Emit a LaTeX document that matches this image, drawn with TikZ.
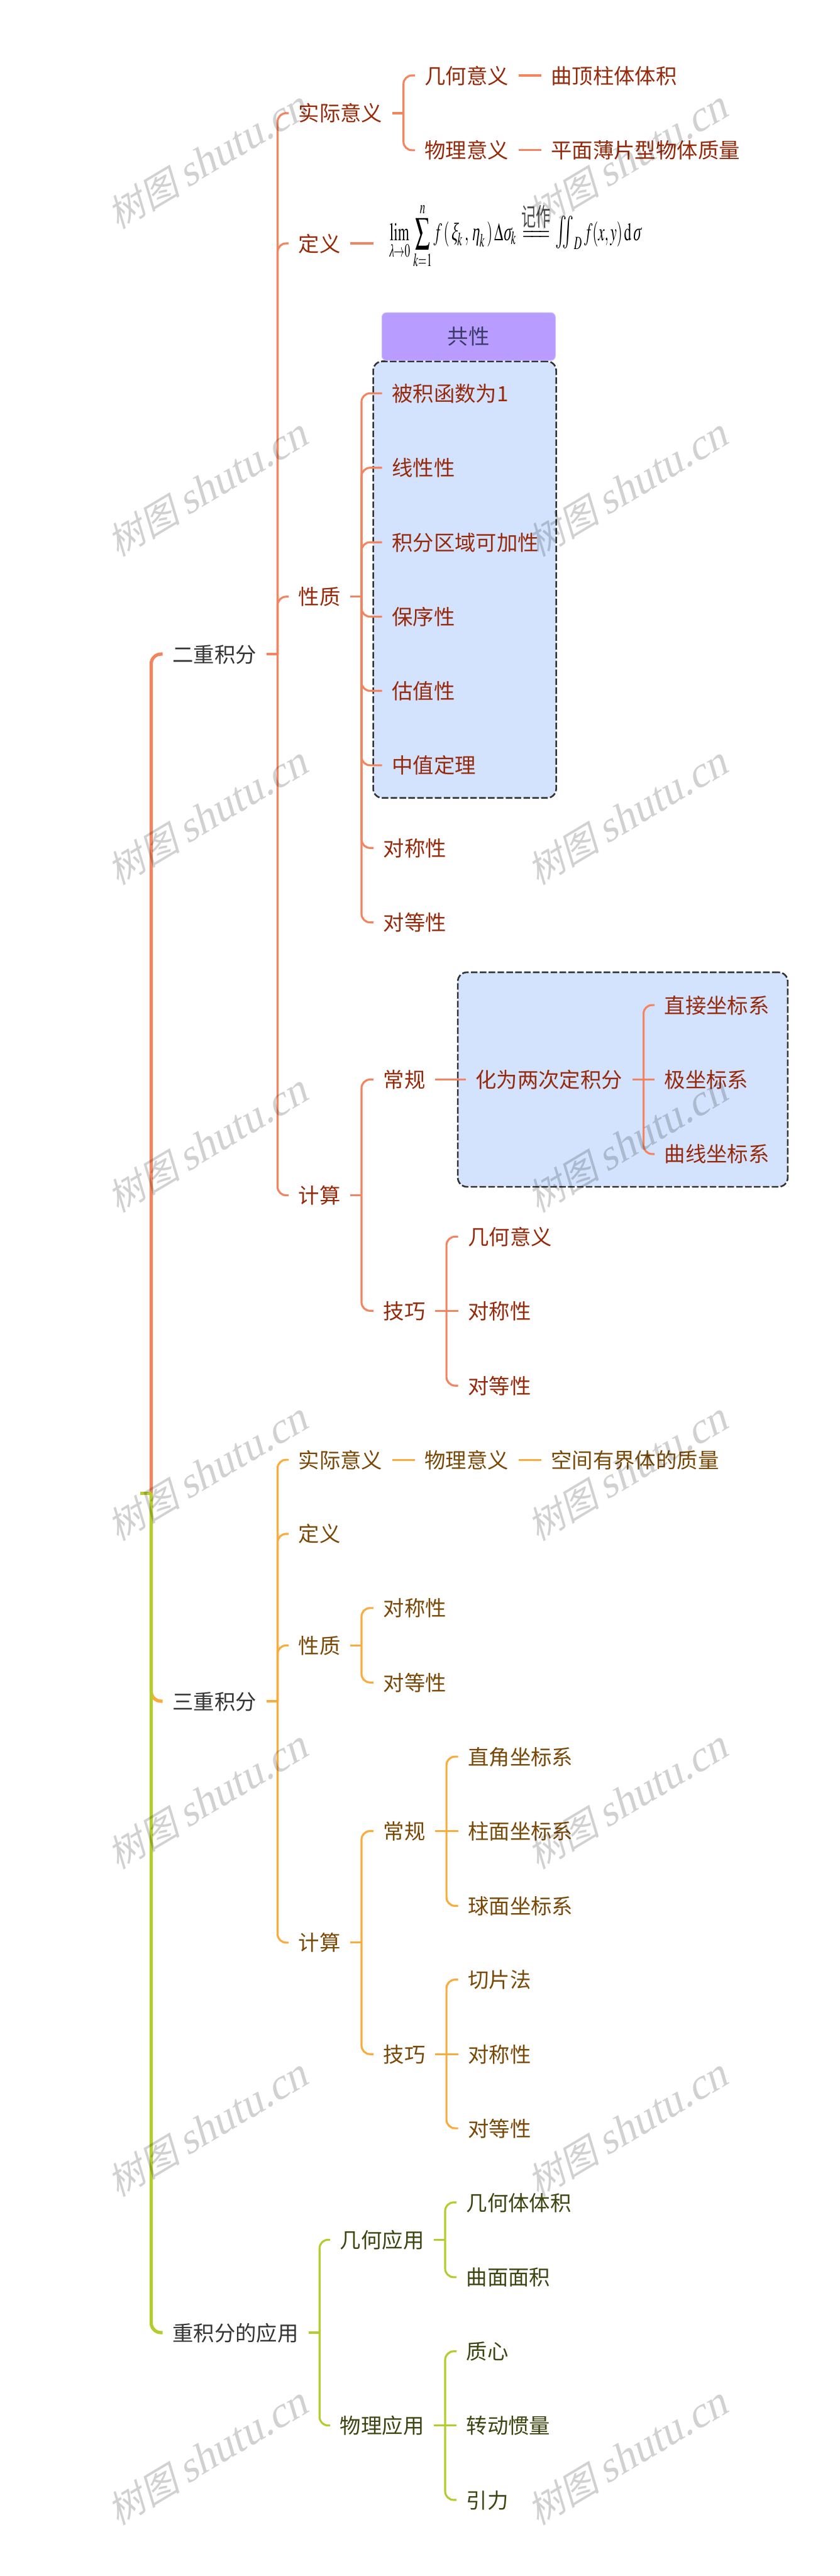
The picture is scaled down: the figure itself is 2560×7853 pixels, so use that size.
\documentclass[tikz,border=0pt]{standalone}
\usepackage{amsmath}
\usepackage{graphicx}
\usepackage{mathptmx}
\usepackage[no-math]{fontspec}
\setmainfont{Noto Sans CJK SC}
\newfontfamily\wmlatin[FakeSlant=0.25]{Liberation Serif}
\newfontfamily\wmcjk[FakeSlant=0.25]{Noto Sans CJK SC}
\definecolor{lineO}{HTML}{F4845F}
\definecolor{lineY}{HTML}{FAAB3C}
\definecolor{lineG}{HTML}{B4CC2E}
\definecolor{txtO}{HTML}{97290B}
\definecolor{txtY}{HTML}{7A4806}
\definecolor{txtG}{HTML}{3C4410}
\definecolor{txtK}{HTML}{333333}
\definecolor{boxB}{HTML}{D3E3FD}
\definecolor{boxP}{HTML}{B99CFF}
\definecolor{tagT}{HTML}{3B3A66}
\tikzset{
  lbl/.style={anchor=west,inner ysep=0pt,inner xsep=30pt,font=\fontsize{64}{70}\selectfont,text height=54pt,text depth=4pt},
  rootlbl/.style={lbl,text=txtK},
  lblO/.style={lbl,text=txtO},
  lblY/.style={lbl,text=txtY},
  lblG/.style={lbl,text=txtG},
  branchO/.style={draw=lineO,line width=6pt},
  branchY/.style={draw=lineY,line width=6pt},
  branchG/.style={draw=lineG,line width=6pt},
  trunkO/.style={draw=lineO,line width=10pt},
  trunkY/.style={draw=lineY,line width=10pt},
  trunkG/.style={draw=lineG,line width=10pt},
  groupbox/.style={draw=txtK,fill=boxB,line width=5pt,rounded corners=28pt,dash pattern=on 20pt off 7pt,inner sep=0pt},
  tagbox/.style={draw=boxP!70!white,fill=boxP,line width=2pt,rounded corners=14pt,inner sep=0pt,text=tagT,font=\fontsize{64}{70}\selectfont},
  wmark/.style={anchor=base west,rotate=30.8,inner sep=0pt,opacity=0.18,text=black}
}
\newcommand{\brk}[3]{%
  \draw[#1] (#2.east) -- ++(34,0);
  \draw[#1,rounded corners=26pt] (#2.east) ++(34,0) |- (#3.west);}
\newcommand{\straight}[3]{\draw[#1] (#2.east) -- (#3.west);}
\newcommand{\wmtext}{{\fontsize{112}{120}\selectfont\wmcjk 树图}\hspace{22pt}{\fontsize{130}{136}\selectfont\wmlatin shutu.cn}}
\newcommand{\gk}[1]{\mbox{\fontsize{10}{10}\selectfont\wmlatin #1}}
\newcommand{\gks}[1]{\mbox{\fontsize{7}{7}\selectfont\wmlatin #1}}
\begin{document}
\begin{tikzpicture}[x=1pt,y=-1pt]
\useasboundingbox[fill=white] (0,0) rectangle (2560,7853);
% group boxes
\node[groupbox,minimum width=558pt,minimum height=1331pt] (grpA) at (1417,1767) {};
\node[tagbox,minimum width=529pt,minimum height=146pt] (tagA) at (1429,1026) {共性};
\node[groupbox,minimum width=1006pt,minimum height=654pt] (grpB) at (1899,3291) {};
% root
\coordinate (root) at (427,4552);
% level 1
\node[rootlbl] (n1) at (496,1994) {二重积分};
\node[rootlbl] (n2) at (496,5186) {三重积分};
\node[rootlbl] (n3) at (496,7111) {重积分的应用};
% double integral
\node[lblO] (a1) at (880,345) {实际意义};
\node[lblO] (a2) at (880,742) {定义};
\node[lblO] (a3) at (880,1819) {性质};
\node[lblO] (a4) at (880,3644) {计算};
\node[lblO] (a11) at (1265,230) {几何意义};
\node[lblO] (a12) at (1265,458) {物理意义};
\node[lblO] (a111) at (1650,230) {曲顶柱体体积};
\node[lblO] (a121) at (1650,458) {平面薄片型物体质量};
\node[anchor=center,inner sep=0pt] (formula) at (1570,719.5) {\resizebox{768pt}{115pt}{$\displaystyle\lim_{\gks{λ}\to 0}\,\sum_{k=1}^{n} f\,(\,\gk{ξ}_k\,,\,\gk{η}_k\,)\,\Delta\gk{σ}_k\,\overset{\mbox{\fontsize{10}{10}\selectfont\color{black!70}记作}}{=\!\!=\!\!=}\,\mathop{\scalebox{1.3}{$\textstyle\iint$}}\nolimits_D f(x,y)\,\mathrm{d}\,\gk{σ}$}};
\coordinate (formulaL) at (1138,742);
\node[lblO] (a31) at (1165,1199) {被积函数为1};
\node[lblO] (a32) at (1165,1426) {线性性};
\node[lblO] (a33) at (1165,1653) {积分区域可加性};
\node[lblO] (a34) at (1165,1880) {保序性};
\node[lblO] (a35) at (1165,2106) {估值性};
\node[lblO] (a36) at (1165,2333) {中值定理};
\node[lblO] (a37) at (1139,2585) {对称性};
\node[lblO] (a38) at (1139,2812) {对等性};
\node[lblO] (a41) at (1139,3291) {常规};
\node[lblO] (a42) at (1139,3996) {技巧};
\node[lblO] (a411) at (1420,3291) {化为两次定积分};
\node[lblO] (a4111) at (1996,3064) {直接坐标系};
\node[lblO] (a4112) at (1996,3291) {极坐标系};
\node[lblO] (a4113) at (1996,3518) {曲线坐标系};
\node[lblO] (a421) at (1397,3770) {几何意义};
\node[lblO] (a422) at (1397,3996) {对称性};
\node[lblO] (a423) at (1397,4224) {对等性};
% triple integral
\node[lblY] (b1) at (880,4450) {实际意义};
\node[lblY] (b2) at (880,4676) {定义};
\node[lblY] (b3) at (880,5016) {性质};
\node[lblY] (b4) at (880,5922) {计算};
\node[lblY] (b11) at (1265,4450) {物理意义};
\node[lblY] (b111) at (1650,4450) {空间有界体的质量};
\node[lblY] (b31) at (1139,4902) {对称性};
\node[lblY] (b32) at (1139,5129) {对等性};
\node[lblY] (b41) at (1139,5582) {常规};
\node[lblY] (b42) at (1139,6262) {技巧};
\node[lblY] (b411) at (1397,5355) {直角坐标系};
\node[lblY] (b412) at (1397,5582) {柱面坐标系};
\node[lblY] (b413) at (1397,5810) {球面坐标系};
\node[lblY] (b421) at (1397,6035) {切片法};
\node[lblY] (b422) at (1397,6262) {对称性};
\node[lblY] (b423) at (1397,6488) {对等性};
% applications
\node[lblG] (c1) at (1007,6828) {几何应用};
\node[lblG] (c2) at (1007,7394) {物理应用};
\node[lblG] (c11) at (1392,6714) {几何体体积};
\node[lblG] (c12) at (1392,6942) {曲面面积};
\node[lblG] (c21) at (1392,7168) {质心};
\node[lblG] (c22) at (1392,7394) {转动惯量};
\node[lblG] (c23) at (1392,7621) {引力};
% connectors: root
\draw[trunkO,rounded corners=30pt] (root) ++(34,0) |- (n1.west);
\draw[trunkY,rounded corners=30pt] (root) ++(34,0) |- (n2.west);
\draw[trunkG,rounded corners=30pt] (root) ++(34,0) |- (n3.west);
\draw[trunkG] (root) -- ++(34,0);
% connectors: double integral
\foreach \c in {a1,a2,a3,a4}{\brk{branchO}{n1}{\c}}
\foreach \c in {a11,a12}{\brk{branchO}{a1}{\c}}
\straight{branchO}{a11}{a111}
\straight{branchO}{a12}{a121}
\straight{branchO}{a2}{formulaL}
\foreach \c in {a31,a32,a33,a34,a35,a36,a37,a38}{\brk{branchO}{a3}{\c}}
\foreach \c in {a41,a42}{\brk{branchO}{a4}{\c}}
\straight{branchO}{a41}{a411}
\foreach \c in {a4111,a4113}{\brk{branchO}{a411}{\c}}
\straight{branchO}{a411}{a4112}
\foreach \c in {a421,a423}{\brk{branchO}{a42}{\c}}
\straight{branchO}{a42}{a422}
% connectors: triple integral
\foreach \c in {b1,b2,b3,b4}{\brk{branchY}{n2}{\c}}
\straight{branchY}{b1}{b11}
\straight{branchY}{b11}{b111}
\foreach \c in {b31,b32}{\brk{branchY}{b3}{\c}}
\foreach \c in {b41,b42}{\brk{branchY}{b4}{\c}}
\foreach \c in {b411,b413}{\brk{branchY}{b41}{\c}}
\straight{branchY}{b41}{b412}
\foreach \c in {b421,b423}{\brk{branchY}{b42}{\c}}
\straight{branchY}{b42}{b422}
% connectors: applications
\foreach \c in {c1,c2}{\brk{branchG}{n3}{\c}}
\foreach \c in {c11,c12}{\brk{branchG}{c1}{\c}}
\foreach \c in {c21,c23}{\brk{branchG}{c2}{\c}}
\straight{branchG}{c2}{c22}
% watermark
\foreach \r/\y in {1/700,2/1700,3/2700,4/3700,5/4700,6/5700,7/6700,8/7700}{
  \node[wmark] (wmL\r) at (360,\y) {\wmtext};
  \node[wmark] (wmR\r) at (1640,\y) {\wmtext};
}
\end{tikzpicture}
\end{document}
